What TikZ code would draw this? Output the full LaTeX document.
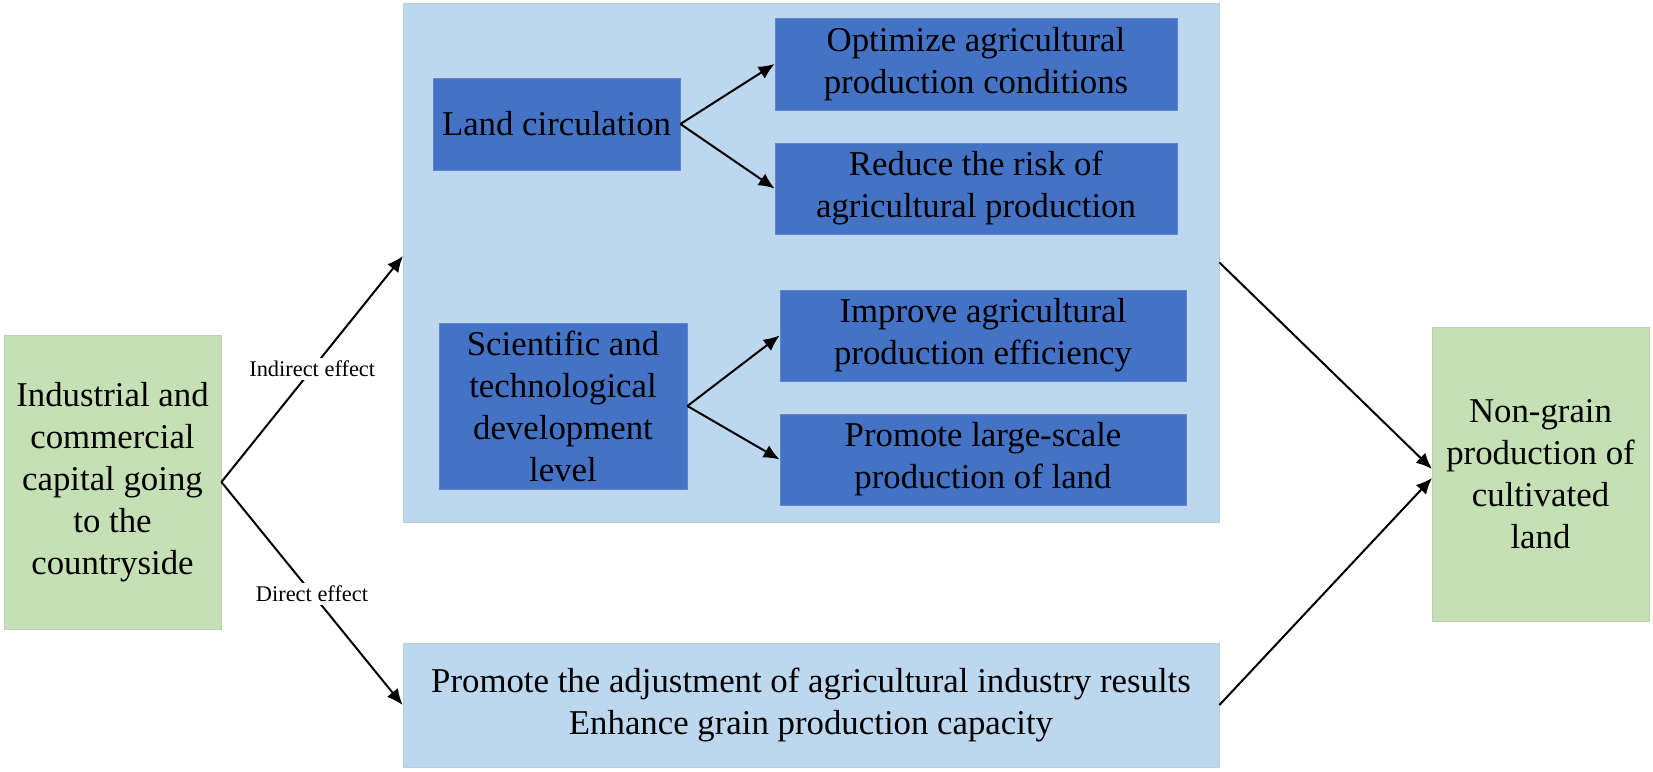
\documentclass[tikz,border=0pt]{standalone}
\usepackage{fontspec}
\setmainfont{Liberation Serif}
\usetikzlibrary{arrows.meta}
\definecolor{lblue}{HTML}{BDD7EE}
\definecolor{dblue}{HTML}{4472C4}
\definecolor{lgreen}{HTML}{C5E0B4}
\tikzset{
  box/.style={rectangle, inner sep=0pt, align=center, font=\fontsize{17.4}{21}\selectfont, text=black},
  greenbox/.style={box, fill=lgreen, draw=lgreen!85!gray, line width=0.4pt},
  lightbox/.style={box, fill=lblue, draw=lblue!90!gray, line width=0.4pt},
  darkbox/.style={box, fill=dblue, draw=dblue!85!white, line width=0.4pt},
  arr/.style={-{Latex[length=8pt,width=7pt]}, line width=1pt, black},
  lbl/.style={fill=white, inner sep=1.5pt, font=\fontsize{11.2}{13}\selectfont}
}
\begin{document}
\begin{tikzpicture}[x=0.5pt,y=-0.5pt]
\useasboundingbox (0,0) rectangle (1653,771);
% containers
\node[lightbox, minimum width=408pt, minimum height=259.5pt] (Big) at (811,262.5) {};
\node[lightbox, minimum width=408pt, minimum height=62pt] (Bot) at (811,705)
  {Promote the adjustment of agricultural industry results\\Enhance grain production capacity};
% end boxes
\node[greenbox, minimum width=108.5pt, minimum height=147pt] (L) at (112.5,482)
  {Industrial and\\commercial\\capital going\\to the\\countryside};
\node[greenbox, minimum width=108.5pt, minimum height=147pt] (R) at (1540.5,474)
  {Non-grain\\production of\\cultivated\\land};
% inner boxes
\node[darkbox, minimum width=123.5pt, minimum height=46pt] (LC) at (556.5,124) {Land circulation};
\node[darkbox, minimum width=201pt, minimum height=46pt] (Opt) at (976,64)
  {Optimize agricultural\\production conditions};
\node[darkbox, minimum width=201pt, minimum height=45.5pt] (Red) at (976,188.5)
  {Reduce the risk of\\agricultural production};
\node[darkbox, minimum width=124pt, minimum height=83pt] (Sci) at (563,406)
  {Scientific and\\technological\\development\\level};
\node[darkbox, minimum width=203pt, minimum height=45.5pt] (Imp) at (983,335.5)
  {Improve agricultural\\production efficiency};
\node[darkbox, minimum width=203pt, minimum height=45.5pt] (Pro) at (983,459.5)
  {Promote large-scale\\production of land};
% connectors
\coordinate (bigin) at (403,256);
\coordinate (rin1) at (1432,469);
\coordinate (rin2) at (1432,478);
\draw[arr] (L.east) -- node[lbl] (ind) {Indirect effect} (bigin);
\draw[arr] (L.east) -- node[lbl] (dir) {Direct effect} (Bot.west);
\draw[arr] (Big.east) -- (rin1);
\draw[arr] (Bot.east) -- (rin2);
\draw[arr] (LC.east) -- (Opt.west);
\draw[arr] (LC.east) -- (Red.west);
\draw[arr] (Sci.east) -- (Imp.west);
\draw[arr] (Sci.east) -- (Pro.west);
\end{tikzpicture}
\end{document}
